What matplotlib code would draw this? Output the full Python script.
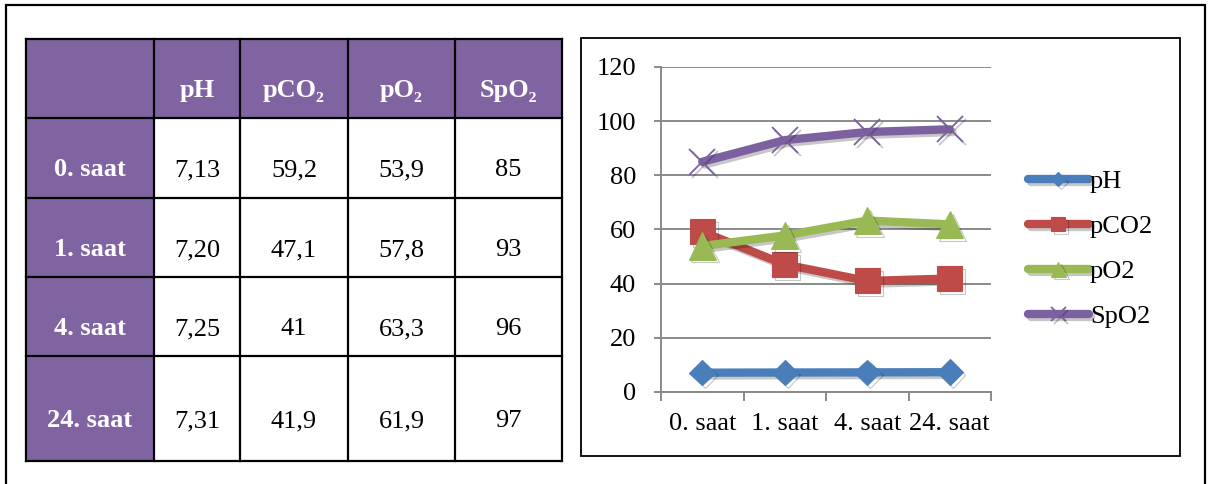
import matplotlib
matplotlib.use("Agg")
import matplotlib.pyplot as plt
from matplotlib.patches import Rectangle
import matplotlib.patheffects as pe

plt.rcParams['font.family'] = ['Liberation Serif', 'DejaVu Serif']

# ---- data -------------------------------------------------------------
times = ["0. saat", "1. saat", "4. saat", "24. saat"]
headers = ["pH", "pCO₂", "pO₂", "SpO₂"]
series_names = ["pH", "pCO2", "pO2", "SpO2"]

ph_text = ["7,13", "7,20", "7,25", "7,31"]
pco2_text = ["59,2", "47,1", "41", "41,9"]
po2_text = ["53,9", "57,8", "63,3", "61,9"]
spo2_text = ["85", "93", "96", "97"]

y_ticks = [0, 20, 40, 60, 80, 100, 120]


def to_num(vals):
    return [float(v.replace(",", ".")) for v in vals]


columns_text = [ph_text, pco2_text, po2_text, spo2_text]
columns = [to_num(c) for c in columns_text]

# ---- styling ----------------------------------------------------------
W, H = 1215, 484
PURPLE = "#8064A2"
colors = ["#4A7EBB", "#BE4B48", "#98B954", "#7D60A0"]
markers = ["D", "s", "^", "x"]
msizes = [13, 18, 19.5, 19]

fig = plt.figure(figsize=(W / 100, H / 100), dpi=100)
fig.patch.set_facecolor("white")

# pixel-space canvas for the table and the frames
bg = fig.add_axes([0, 0, 1, 1])
bg.set_xlim(0, W)
bg.set_ylim(H, 0)
bg.axis("off")

# outer frame (open at the bottom)
bg.plot([6, 6, 1205, 1205], [H + 5, 5, 5, H + 5], color="black", lw=1.6,
        solid_joinstyle="miter")

# table grid
col_x = [26, 154, 240, 348, 455, 562]
row_y = [39, 118, 198, 277, 356, 461]

bg.add_patch(Rectangle((col_x[0], row_y[0]), col_x[-1] - col_x[0],
                       row_y[1] - row_y[0], facecolor=PURPLE, edgecolor="none"))
bg.add_patch(Rectangle((col_x[0], row_y[1]), col_x[1] - col_x[0],
                       row_y[-1] - row_y[1], facecolor=PURPLE, edgecolor="none"))
for x in col_x:
    bg.plot([x, x], [row_y[0], row_y[-1]], color="black", lw=1.6)
for y in row_y:
    bg.plot([col_x[0], col_x[-1]], [y, y], color="black", lw=1.6)

fs_tab = 19
for j, h in enumerate(headers):
    cx = (col_x[j + 1] + col_x[j + 2]) / 2
    cy = (row_y[0] + row_y[1]) / 2 + 18.5
    bg.text(cx, cy, h, ha="center", va="baseline", color="white",
            fontweight="bold", fontsize=fs_tab)

for i, t in enumerate(times):
    cy = (row_y[i + 1] + row_y[i + 2]) / 2 + 18.5
    bg.text((col_x[0] + col_x[1]) / 2, cy, t, ha="center", va="baseline",
            color="white", fontweight="bold", fontsize=fs_tab)
    for j, col in enumerate(columns_text):
        cx = (col_x[j + 1] + col_x[j + 2]) / 2
        bg.text(cx, cy, col[i], ha="center", va="baseline", color="black",
                fontsize=fs_tab)

# chart frame
bg.add_patch(Rectangle((581, 38), 1180 - 581, 456 - 38, facecolor="white",
                       edgecolor="black", lw=1.3))

# ---- line chart -------------------------------------------------------
ax = fig.add_axes([661 / W, (H - 392) / H, 330 / W, 325 / H])
ax.set_facecolor("none")

x = list(range(len(times)))
handles = []
for vals, name, c, m, ms in zip(columns, series_names, colors, markers, msizes):
    kw = dict(color=c, lw=6, marker=m, markersize=ms, label=name,
              solid_capstyle="round", solid_joinstyle="round")
    if m == "x":
        kw.update(markeredgewidth=1.3, markeredgecolor=c)
    else:
        kw.update(markeredgewidth=0.8, markeredgecolor=c, markerfacecolor=c)
    ln, = ax.plot(x, vals, zorder=3, **kw)
    ln.set_path_effects([pe.SimpleLineShadow(offset=(2, -2), alpha=0.22),
                         pe.Normal()])
    handles.append(ln)

ax.set_xlim(-0.5, len(times) - 0.5)
ax.set_ylim(0, 120)
ax.set_yticks(y_ticks)
ax.set_yticklabels([str(v) for v in y_ticks])
ax.set_xticks(x)
ax.set_xticklabels(times)
ax.set_xticks([i - 0.5 for i in range(len(times) + 1)], minor=True)

GRID = "#8A8A8A"
ax.grid(axis="y", color=GRID, lw=1.4, zorder=0)
ax.set_axisbelow(True)
for s in ["top", "right"]:
    ax.spines[s].set_visible(False)
for s in ["left", "bottom"]:
    ax.spines[s].set_color(GRID)
    ax.spines[s].set_linewidth(1.4)

ax.tick_params(axis="y", direction="out", length=5, width=1.4, color=GRID,
               labelsize=19, pad=13)
ax.tick_params(axis="x", which="major", length=0, labelsize=19, pad=15)
ax.tick_params(axis="x", which="minor", direction="out", length=6.5,
               width=1.4, color=GRID)

leg = ax.legend(handles=handles, loc="center left",
                bbox_to_anchor=(1028 / W, (H - 249) / H),
                bbox_transform=fig.transFigure, frameon=False, fontsize=19,
                handlelength=2.3, handletextpad=0.05, borderpad=0,
                borderaxespad=0, labelspacing=0.82, markerscale=0.55)

fig.savefig("out.png", dpi=100, facecolor="white")
